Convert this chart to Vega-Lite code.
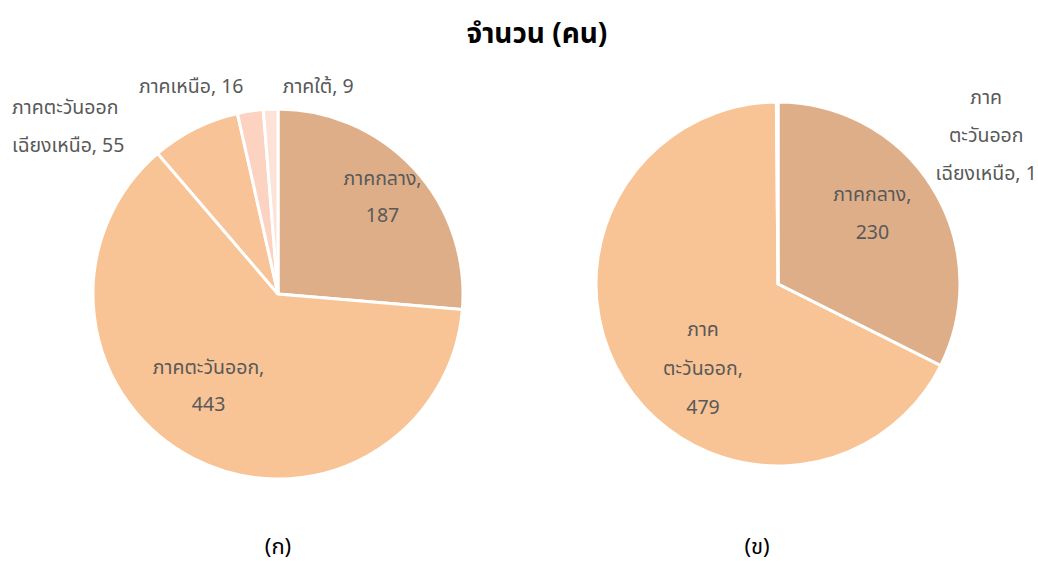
{
  "$schema": "https://vega.github.io/schema/vega-lite/v6.json",
  "padding": {"left": 0, "top": 21, "right": 0, "bottom": 0},
  "spacing": 0,
  "config": {
    "view": {"stroke": null},
    "font": "'Noto Sans Thai', 'Noto Sans', sans-serif",
    "text": {"font": "'Noto Sans Thai', 'Noto Sans', sans-serif"}
  },
  "title": {
    "text": "จำนวน (คน)",
    "fontSize": 28,
    "fontWeight": "bold",
    "color": "#000000",
    "anchor": "middle",
    "dx": -34,
    "offset": 2
  },
  "datasets": {
    "left": [
      {"region": "ภาคกลาง", "count": 187, "order": 1, "label": "ภาคกลาง,\n187"},
      {"region": "ภาคตะวันออก", "count": 443, "order": 2, "label": "ภาคตะวันออก,\n443"},
      {"region": "ภาคตะวันออกเฉียงเหนือ", "count": 55, "order": 3, "label": "ภาคตะวันออก\nเฉียงเหนือ, 55"},
      {"region": "ภาคเหนือ", "count": 16, "order": 4, "label": "ภาคเหนือ, 16"},
      {"region": "ภาคใต้", "count": 9, "order": 5, "label": "ภาคใต้, 9"}
    ],
    "right": [
      {"region": "ภาคกลาง", "count": 230, "order": 1, "label": "ภาคกลาง,\n230"},
      {"region": "ภาคตะวันออก", "count": 479, "order": 2, "label": "ภาค\nตะวันออก,\n479"},
      {"region": "ภาคตะวันออกเฉียงเหนือ", "count": 1, "order": 3, "label": "ภาค\nตะวันออก\nเฉียงเหนือ, 1"}
    ]
  },
  "hconcat": [
    {
      "width": 556,
      "height": 486,
      "data": {"name": "left"},
      "title": {"text": "(ก)", "orient": "bottom", "fontSize": 22, "fontWeight": "normal", "color": "#000000", "anchor": "middle", "offset": 0},
      "encoding": {
        "theta": {"field": "count", "type": "quantitative", "stack": true},
        "order": {"field": "order", "type": "quantitative"}
      },
      "layer": [
        {
          "mark": {"type": "arc", "radius": 185, "stroke": "#ffffff", "strokeWidth": 3},
          "encoding": {
            "color": {"field": "region", "type": "nominal", "legend": null,
              "scale": {"domain": ["ภาคกลาง", "ภาคตะวันออก", "ภาคตะวันออกเฉียงเหนือ", "ภาคเหนือ", "ภาคใต้"],
                        "range": ["#deae89", "#f8c395", "#f8c397", "#fbd3c0", "#fde2d8"]}}
          }
        },
        {
          "mark": {"type": "text", "radius": 142, "dy": -19, "fontSize": 19.5, "lineBreak": "\n", "lineHeight": 37, "color": "#595959", "align": "center", "baseline": "middle"},
          "encoding": {"text": {"condition": {"test": "datum.region === 'ภาคกลาง'", "field": "label"}, "value": ""}}
        },
        {
          "mark": {"type": "text", "radius": 115, "dx": -17, "dy": -28, "fontSize": 19.5, "lineBreak": "\n", "lineHeight": 37, "color": "#595959", "align": "center", "baseline": "middle"},
          "encoding": {"text": {"condition": {"test": "datum.region === 'ภาคตะวันออก'", "field": "label"}, "value": ""}}
        },
        {
          "mark": {"type": "text", "radius": 185, "dx": -183, "dy": -21, "fontSize": 19.5, "lineBreak": "\n", "lineHeight": 38, "color": "#595959", "align": "left", "baseline": "middle"},
          "encoding": {"text": {"condition": {"test": "datum.region === 'ภาคตะวันออกเฉียงเหนือ'", "field": "label"}, "value": ""}}
        },
        {
          "mark": {"type": "text", "radius": 210, "dx": -3, "dy": 1, "fontSize": 19.5, "color": "#595959", "align": "right", "baseline": "middle"},
          "encoding": {"text": {"condition": {"test": "datum.region === 'ภาคเหนือ'", "field": "label"}, "value": ""}}
        },
        {
          "mark": {"type": "text", "radius": 210, "dx": 13, "dy": 3, "fontSize": 19.5, "color": "#595959", "align": "left", "baseline": "middle"},
          "encoding": {"text": {"condition": {"test": "datum.region === 'ภาคใต้'", "field": "label"}, "value": ""}}
        }
      ]
    },
    {
      "width": 444,
      "height": 466,
      "data": {"name": "right"},
      "title": {"text": "(ข)", "orient": "bottom", "fontSize": 22, "fontWeight": "normal", "color": "#000000", "anchor": "middle", "dx": -21, "offset": 20},
      "encoding": {
        "theta": {"field": "count", "type": "quantitative", "stack": true},
        "order": {"field": "order", "type": "quantitative"}
      },
      "layer": [
        {
          "mark": {"type": "arc", "radius": 182, "stroke": "#ffffff", "strokeWidth": 3},
          "encoding": {
            "color": {"field": "region", "type": "nominal", "legend": null,
              "scale": {"domain": ["ภาคกลาง", "ภาคตะวันออก", "ภาคตะวันออกเฉียงเหนือ", "ภาคเหนือ", "ภาคใต้"],
                        "range": ["#deae89", "#f8c395", "#f8c397", "#fbd3c0", "#fde2d8"]}}
          }
        },
        {
          "mark": {"type": "text", "radius": 118, "dx": -6, "dy": -27, "fontSize": 19.5, "lineBreak": "\n", "lineHeight": 38, "color": "#595959", "align": "center", "baseline": "middle"},
          "encoding": {"text": {"condition": {"test": "datum.region === 'ภาคกลาง'", "field": "label"}, "value": ""}}
        },
        {
          "mark": {"type": "text", "radius": 112, "dx": 20, "dy": -13, "fontSize": 19.5, "lineBreak": "\n", "lineHeight": 39, "color": "#595959", "align": "center", "baseline": "middle"},
          "encoding": {"text": {"condition": {"test": "datum.region === 'ภาคตะวันออก'", "field": "label"}, "value": ""}}
        },
        {
          "mark": {"type": "text", "radius": 182, "dx": 209, "dy": -4, "fontSize": 19.5, "lineBreak": "\n", "lineHeight": 38, "color": "#595959", "align": "center", "baseline": "middle"},
          "encoding": {"text": {"condition": {"test": "datum.region === 'ภาคตะวันออกเฉียงเหนือ'", "field": "label"}, "value": ""}}
        }
      ]
    }
  ]
}
